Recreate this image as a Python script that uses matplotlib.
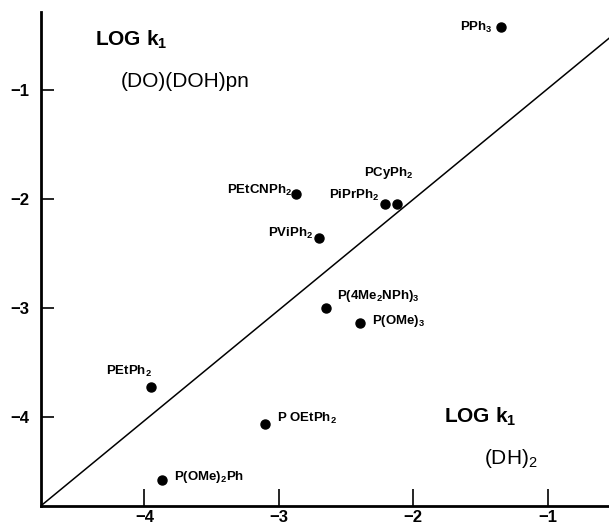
import matplotlib
matplotlib.use('Agg')
import matplotlib.pyplot as plt

plt.rcParams['font.family'] = ['Liberation Sans', 'DejaVu Sans']
plt.rcParams['mathtext.fontset'] = 'custom'
plt.rcParams['mathtext.rm'] = 'Liberation Sans'
plt.rcParams['mathtext.bf'] = 'Liberation Sans:bold'

# log k1 (DH)2 vs log k1 (DO)(DOH)pn
ligands = ['PPh$_\\mathbf{3}$', 'PCyPh$_\\mathbf{2}$', 'PiPrPh$_\\mathbf{2}$',
           'PEtCNPh$_\\mathbf{2}$', 'PViPh$_\\mathbf{2}$',
           'P(4Me$_\\mathbf{2}$NPh)$_\\mathbf{3}$', 'P(OMe)$_\\mathbf{3}$',
           'PEtPh$_\\mathbf{2}$', 'P OEtPh$_\\mathbf{2}$', 'P(OMe)$_\\mathbf{2}$Ph']
log_k_dh = [-1.35, -2.12, -2.21, -2.87, -2.70, -2.65, -2.40, -3.95, -3.10, -3.87]
log_k_dodoh = [-0.43, -2.05, -2.05, -1.96, -2.36, -3.00, -3.14, -3.73, -4.07, -4.58]

# label offsets in points (dx, dy, ha)
offsets = [(-6, 0, 'right'), (-24, 22, 'left'), (-4, 6, 'right'),
           (-3, 3, 'right'), (-4, 3, 'right'), (8, 8, 'left'),
           (9, 1, 'left'), (1, 11, 'right'), (8, 4, 'left'), (9, 2, 'left')]

line_x = [-4.77, -0.545]
line_y = [-4.82, -0.53]

fig = plt.figure(figsize=(6.09, 5.27), dpi=100)
ax = fig.add_axes([0.067, 0.040, 0.933, 0.937])

ax.plot(line_x, line_y, color='black', lw=1.1)
ax.plot(log_k_dh, log_k_dodoh, 'o', color='black', ms=6.5)

for name, x, y, (dx, dy, ha) in zip(ligands, log_k_dh, log_k_dodoh, offsets):
    ax.annotate(name, (x, y), xytext=(dx, dy), textcoords='offset points',
                ha=ha, va='center', fontsize=9.5, fontweight='bold')

ax.text(0.095, 0.945, 'LOG k$_\\mathbf{1}$', transform=ax.transAxes,
        fontsize=15, fontweight='bold', va='center')
ax.text(0.14, 0.86, '(DO)(DOH)pn', transform=ax.transAxes,
        fontsize=15, va='center')
ax.text(0.71, 0.18, 'LOG k$_\\mathbf{1}$', transform=ax.transAxes,
        fontsize=15, fontweight='bold', va='center')
ax.text(0.78, 0.097, '(DH)$_\\mathrm{2}$', transform=ax.transAxes,
        fontsize=15, va='center')

ax.set_xlim(-4.77, -0.545)
ax.set_ylim(-4.82, -0.29)
ax.set_xticks([-4, -3, -2, -1])
ax.set_yticks([-4, -3, -2, -1])
ax.spines['top'].set_visible(False)
ax.spines['right'].set_visible(False)
ax.spines['left'].set_linewidth(2)
ax.spines['bottom'].set_linewidth(2)
ax.tick_params(axis='x', direction='in', length=12, width=1.2, pad=3,
               labelsize=12)
ax.tick_params(axis='y', direction='in', length=9, width=1.2, pad=8,
               labelsize=12)
for lab in ax.get_xticklabels() + ax.get_yticklabels():
    lab.set_fontweight('bold')

fig.savefig('out.png', dpi=100)
